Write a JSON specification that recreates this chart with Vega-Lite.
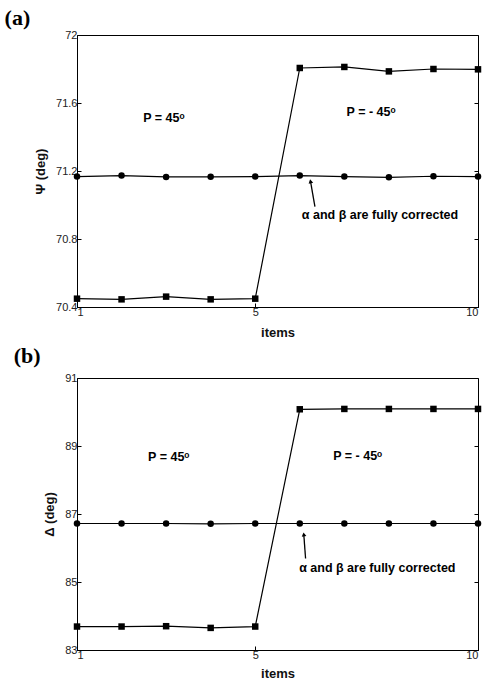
{
  "$schema": "https://vega.github.io/schema/vega-lite/v6.json",
  "padding": {"left": 4, "top": 6, "right": 5, "bottom": 2},
  "background": "white",
  "spacing": 4,
  "config": {
    "view": {"stroke": "black", "strokeWidth": 1},
    "axis": {"grid": false, "domainColor": "black", "tickColor": "black", "labelFont": "Liberation Sans", "labelFontSize": 11, "labelColor": "#222", "titleFont": "Liberation Sans", "titleFontSize": 13, "titleFontWeight": "bold", "titleColor": "#111", "tickSize": 4},
    "title": {"font": "Liberation Serif", "fontSize": 22, "fontWeight": "bold", "anchor": "start", "frame": "bounds", "color": "black"}
  },
  "datasets": {
    "pts": [
      {"panel": "a", "series": "corrected", "item": 1, "value": 71.167},
      {"panel": "a", "series": "corrected", "item": 2, "value": 71.173},
      {"panel": "a", "series": "corrected", "item": 3, "value": 71.165},
      {"panel": "a", "series": "corrected", "item": 4, "value": 71.166},
      {"panel": "a", "series": "corrected", "item": 5, "value": 71.167},
      {"panel": "a", "series": "corrected", "item": 6, "value": 71.173},
      {"panel": "a", "series": "corrected", "item": 7, "value": 71.167},
      {"panel": "a", "series": "corrected", "item": 8, "value": 71.163},
      {"panel": "a", "series": "corrected", "item": 9, "value": 71.169},
      {"panel": "a", "series": "corrected", "item": 10, "value": 71.167},
      {"panel": "a", "series": "uncorrected", "item": 1, "value": 70.449},
      {"panel": "a", "series": "uncorrected", "item": 2, "value": 70.445},
      {"panel": "a", "series": "uncorrected", "item": 3, "value": 70.461},
      {"panel": "a", "series": "uncorrected", "item": 4, "value": 70.445},
      {"panel": "a", "series": "uncorrected", "item": 5, "value": 70.449},
      {"panel": "a", "series": "uncorrected", "item": 6, "value": 71.806},
      {"panel": "a", "series": "uncorrected", "item": 7, "value": 71.812},
      {"panel": "a", "series": "uncorrected", "item": 8, "value": 71.786},
      {"panel": "a", "series": "uncorrected", "item": 9, "value": 71.8},
      {"panel": "a", "series": "uncorrected", "item": 10, "value": 71.798},
      {"panel": "b", "series": "corrected", "item": 1, "value": 86.72},
      {"panel": "b", "series": "corrected", "item": 2, "value": 86.72},
      {"panel": "b", "series": "corrected", "item": 3, "value": 86.72},
      {"panel": "b", "series": "corrected", "item": 4, "value": 86.71},
      {"panel": "b", "series": "corrected", "item": 5, "value": 86.72},
      {"panel": "b", "series": "corrected", "item": 6, "value": 86.72},
      {"panel": "b", "series": "corrected", "item": 7, "value": 86.72},
      {"panel": "b", "series": "corrected", "item": 8, "value": 86.72},
      {"panel": "b", "series": "corrected", "item": 9, "value": 86.72},
      {"panel": "b", "series": "corrected", "item": 10, "value": 86.72},
      {"panel": "b", "series": "uncorrected", "item": 1, "value": 83.69},
      {"panel": "b", "series": "uncorrected", "item": 2, "value": 83.69},
      {"panel": "b", "series": "uncorrected", "item": 3, "value": 83.70},
      {"panel": "b", "series": "uncorrected", "item": 4, "value": 83.65},
      {"panel": "b", "series": "uncorrected", "item": 5, "value": 83.69},
      {"panel": "b", "series": "uncorrected", "item": 6, "value": 90.08},
      {"panel": "b", "series": "uncorrected", "item": 7, "value": 90.09},
      {"panel": "b", "series": "uncorrected", "item": 8, "value": 90.09},
      {"panel": "b", "series": "uncorrected", "item": 9, "value": 90.09},
      {"panel": "b", "series": "uncorrected", "item": 10, "value": 90.09}
    ],
    "labels": [
      {"panel": "a", "item": 2.95, "value": 71.51, "text": "P = 45ᵒ"},
      {"panel": "a", "item": 7.6, "value": 71.55, "text": "P = - 45ᵒ"},
      {"panel": "a", "item": 7.8, "value": 70.94, "text": "α and β are fully corrected"},
      {"panel": "b", "item": 3.06, "value": 88.67, "text": "P = 45ᵒ"},
      {"panel": "b", "item": 7.3, "value": 88.7, "text": "P = - 45ᵒ"},
      {"panel": "b", "item": 7.74, "value": 85.41, "text": "α and β are fully corrected"}
    ],
    "arrows": [
      {"panel": "a", "x": 6.34, "y": 70.99, "x2": 6.24, "y2": 71.14},
      {"panel": "b", "x": 6.13, "y": 85.69, "x2": 6.09, "y2": 86.40}
    ]
  },
  "vconcat": [
    {
      "title": {"text": "(a)", "dx": -30, "offset": -1},
      "width": 401,
      "height": 272,
      "resolve": {"axis": {"y": "independent"}},
      "layer": [
        {
          "data": {"name": "pts"},
          "transform": [{"filter": "datum.panel === 'a'"}],
          "mark": {"type": "line", "color": "black", "strokeWidth": 1.2},
          "encoding": {
            "x": {"field": "item", "type": "quantitative", "scale": {"domain": [1, 10], "nice": false}, "axis": {"values": [1, 5, 10], "title": "items", "tickSize": -4, "labelPadding": 3, "titlePadding": 9}},
            "y": {"field": "value", "type": "quantitative", "scale": {"domain": [70.4, 72], "nice": false, "zero": false}, "axis": {"values": [70.4, 70.8, 71.2, 71.6, 72], "labelExpr": "'' + datum.value", "title": "Ψ (deg)", "tickSize": -4, "labelPadding": 4, "titlePadding": 8}},
            "detail": {"field": "series"}
          }
        },
        {
          "data": {"name": "pts"},
          "transform": [{"filter": "datum.panel === 'a'"}],
          "mark": {"type": "point", "filled": true, "color": "black", "opacity": 1},
          "encoding": {
            "x": {"field": "item", "type": "quantitative"},
            "y": {"field": "value", "type": "quantitative", "axis": {"orient": "right", "values": [70.4, 70.8, 71.2, 71.6, 72], "labels": false, "title": null, "domain": false, "ticks": true, "tickSize": -4, "labelPadding": 0}},
            "shape": {"field": "series", "type": "nominal", "scale": {"domain": ["corrected", "uncorrected"], "range": ["circle", "square"]}, "legend": null},
            "size": {"value": 42}
          }
        },
        {
          "mark": {"type": "rule", "color": "black", "strokeWidth": 1},
          "encoding": {"x": {"datum": 5}}
        },
        {
          "data": {"name": "labels"},
          "transform": [{"filter": "datum.panel === 'a'"}],
          "mark": {"type": "text", "font": "Liberation Sans", "fontWeight": "bold", "fontSize": 12.5, "color": "black"},
          "encoding": {
            "x": {"field": "item", "type": "quantitative"},
            "y": {"field": "value", "type": "quantitative", "axis": null},
            "text": {"field": "text"}
          }
        },
        {
          "data": {"name": "arrows"},
          "transform": [{"filter": "datum.panel === 'a'"}],
          "mark": {"type": "rule", "color": "black", "strokeWidth": 1.3},
          "encoding": {
            "x": {"field": "x", "type": "quantitative"},
            "y": {"field": "y", "type": "quantitative", "axis": null},
            "x2": {"field": "x2"},
            "y2": {"field": "y2"}
          }
        },
        {
          "data": {"name": "arrows"},
          "transform": [{"filter": "datum.panel === 'a'"}],
          "mark": {"type": "point", "shape": "triangle-up", "filled": true, "color": "black", "opacity": 1, "size": 22, "angle": -12},
          "encoding": {
            "x": {"field": "x2", "type": "quantitative"},
            "y": {"field": "y2", "type": "quantitative", "axis": null}
          }
        }
      ]
    },
    {
      "title": {"text": "(b)", "dx": -30, "offset": 4},
      "width": 401,
      "height": 272,
      "resolve": {"axis": {"y": "independent"}},
      "layer": [
        {
          "data": {"name": "pts"},
          "transform": [{"filter": "datum.panel === 'b'"}],
          "mark": {"type": "line", "color": "black", "strokeWidth": 1.2},
          "encoding": {
            "x": {"field": "item", "type": "quantitative", "scale": {"domain": [1, 10], "nice": false}, "axis": {"values": [1, 5, 10], "title": "items", "tickSize": -4, "labelPadding": 3, "titlePadding": 7}},
            "y": {"field": "value", "type": "quantitative", "scale": {"domain": [83, 91], "nice": false, "zero": false}, "axis": {"values": [83, 85, 87, 89, 91], "labelExpr": "'' + datum.value", "title": "Δ (deg)", "tickSize": -4, "labelPadding": 4, "titlePadding": 8}},
            "detail": {"field": "series"}
          }
        },
        {
          "data": {"name": "pts"},
          "transform": [{"filter": "datum.panel === 'b'"}],
          "mark": {"type": "point", "filled": true, "color": "black", "opacity": 1},
          "encoding": {
            "x": {"field": "item", "type": "quantitative"},
            "y": {"field": "value", "type": "quantitative", "axis": {"orient": "right", "values": [83, 85, 87, 89, 91], "labels": false, "title": null, "domain": false, "ticks": true, "tickSize": -4, "labelPadding": 0}},
            "shape": {"field": "series", "type": "nominal", "scale": {"domain": ["corrected", "uncorrected"], "range": ["circle", "square"]}, "legend": null},
            "size": {"value": 42}
          }
        },
        {
          "mark": {"type": "rule", "color": "black", "strokeWidth": 1},
          "encoding": {"x": {"datum": 5}}
        },
        {
          "data": {"name": "labels"},
          "transform": [{"filter": "datum.panel === 'b'"}],
          "mark": {"type": "text", "font": "Liberation Sans", "fontWeight": "bold", "fontSize": 12.5, "color": "black"},
          "encoding": {
            "x": {"field": "item", "type": "quantitative"},
            "y": {"field": "value", "type": "quantitative", "axis": null},
            "text": {"field": "text"}
          }
        },
        {
          "data": {"name": "arrows"},
          "transform": [{"filter": "datum.panel === 'b'"}],
          "mark": {"type": "rule", "color": "black", "strokeWidth": 1.3},
          "encoding": {
            "x": {"field": "x", "type": "quantitative"},
            "y": {"field": "y", "type": "quantitative", "axis": null},
            "x2": {"field": "x2"},
            "y2": {"field": "y2"}
          }
        },
        {
          "data": {"name": "arrows"},
          "transform": [{"filter": "datum.panel === 'b'"}],
          "mark": {"type": "point", "shape": "triangle-up", "filled": true, "color": "black", "opacity": 1, "size": 22, "angle": -8},
          "encoding": {
            "x": {"field": "x2", "type": "quantitative"},
            "y": {"field": "y2", "type": "quantitative", "axis": null}
          }
        }
      ]
    }
  ]
}
